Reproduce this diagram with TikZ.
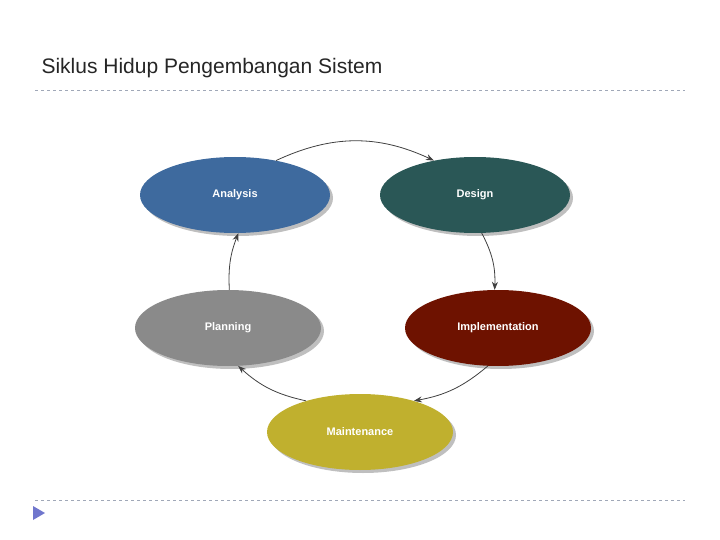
\documentclass[tikz,border=0pt]{standalone}
\usepackage{fontspec}
\setmainfont{Liberation Sans}
\usetikzlibrary{shapes.geometric,shadows,arrows.meta}
\definecolor{cAnalysis}{HTML}{3E6A9E}
\definecolor{cDesign}{HTML}{2A5756}
\definecolor{cPlanning}{HTML}{8A8A8A}
\definecolor{cImpl}{HTML}{6E1200}
\definecolor{cMaint}{HTML}{C0B02E}
\definecolor{cRule}{HTML}{A0A8B8}
\newlength{\pxunit}
\setlength{\pxunit}{1pt}
\tikzset{
  phase/.style={ellipse, minimum width=190\pxunit, minimum height=76\pxunit,
    text=white, font=\bfseries\fontsize{11}{13}\selectfont,
    drop shadow={opacity=0.5, shadow xshift=3pt, shadow yshift=-3pt}, inner sep=0pt},
  cyc/.style={-{Stealth[length=8pt]}, thick, black!75}
}
\begin{document}
\begin{tikzpicture}[x=1pt,y=-1pt]
    \useasboundingbox (0,0) rectangle (720,540);
    \node[anchor=west, font=\fontsize{21}{25}\selectfont, text=black!85] (title) at (38,68) {Siklus Hidup Pengembangan Sistem};
    \draw[cRule, dashed] (35,90) -- (685,90);
    \draw[cRule, dashed] (35,500) -- (685,500);
    \fill[cRule!70!blue] (33,506) -- (45,513) -- (33,520) -- cycle;

    \node[phase, fill=cAnalysis] (analysis) at (235,195) {Analysis};
    \node[phase, fill=cDesign] (design) at (475,195) {Design};
    \node[phase, fill=cPlanning, minimum width=186\pxunit] (planning) at (228,328) {Planning};
    \node[phase, fill=cImpl, minimum width=186\pxunit] (impl) at (498,328) {Implementation};
    \node[phase, fill=cMaint, minimum width=186\pxunit] (maint) at (360,432) {Maintenance};

    \draw[cyc] (analysis.40) to[bend left=25] (design.140);
    \draw[cyc] (design.-80) to[bend left=15] (impl.95);
    \draw[cyc] (impl.-105) to[bend left=15] (maint.30);
    \draw[cyc] (maint.150) to[bend left=15] (planning.-75);
    \draw[cyc] (planning.88) to[bend left=12] (analysis.-85);
\end{tikzpicture}
\end{document}
